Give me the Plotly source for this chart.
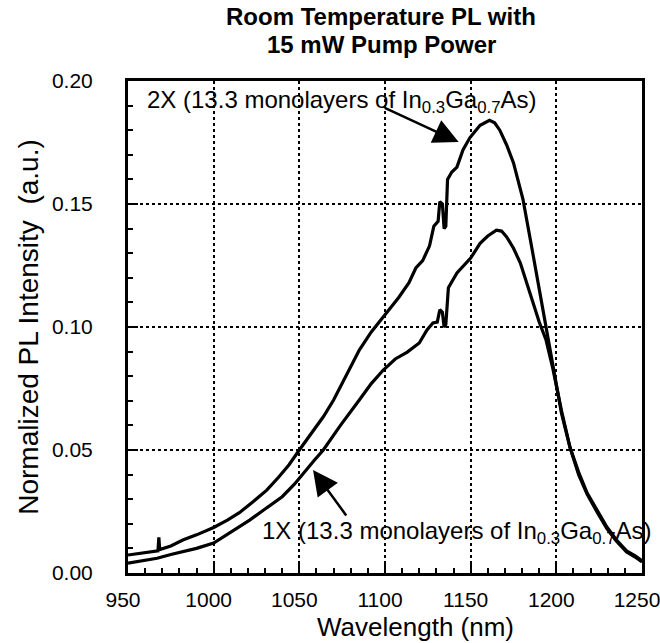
import plotly.graph_objects as go

# 2X sample (upper curve)
wl_2x = [950, 958, 966, 967.5, 968, 968.5, 975, 982, 990, 1000, 1008, 1015, 1023, 1031, 1038, 1044,
         1050, 1057, 1064, 1070, 1077, 1085, 1092, 1099, 1108, 1114, 1118, 1122, 1126, 1128.5, 1131, 1132,
         1133.5, 1134.5, 1135.5, 1136.5, 1139, 1142, 1145.5, 1149.6, 1155.5, 1161, 1164, 1167, 1171,
         1175, 1180.5, 1186, 1192, 1196, 1198, 1203, 1208, 1213, 1218, 1224, 1229.5, 1235, 1241, 1246, 1250]
pl_2x = [0.0073, 0.0080, 0.0090, 0.0090, 0.0145, 0.0095, 0.0110, 0.0134, 0.0155, 0.0185, 0.0215, 0.0245,
         0.0290, 0.0337, 0.0390, 0.0440, 0.0500, 0.0565, 0.0635, 0.0703, 0.0800, 0.0906, 0.0980, 0.1040, 0.1120,
         0.1180, 0.1240, 0.1270, 0.1330, 0.1410, 0.1430, 0.1510, 0.1500, 0.1400, 0.1410, 0.1600, 0.1630,
         0.1650, 0.1720, 0.1770, 0.1820, 0.1840, 0.1830, 0.1800, 0.1740, 0.1667, 0.1520, 0.1310, 0.1080,
         0.0920, 0.0850, 0.0650, 0.0510, 0.0410, 0.0325, 0.0250, 0.0187, 0.0135, 0.0090, 0.0070, 0.0050]

# 1X sample (lower curve)
wl_1x = [950, 958, 967, 975, 983, 990, 1000, 1010, 1021, 1030, 1040, 1047, 1054, 1059, 1064, 1074, 1085,
         1092, 1099, 1106, 1113, 1120, 1124.5, 1128, 1130.5, 1132, 1133.5, 1134.5, 1135.5, 1137, 1142,
         1146, 1150, 1155.5, 1160, 1165, 1168, 1171, 1175, 1179, 1186, 1190, 1194, 1198, 1203, 1208,
         1213, 1218, 1224, 1229.5, 1235, 1241, 1246, 1250]
pl_1x = [0.0040, 0.0050, 0.0060, 0.0075, 0.0088, 0.0100, 0.0122, 0.0165, 0.0215, 0.0260, 0.0310, 0.0360,
         0.0420, 0.0460, 0.0500, 0.0600, 0.0703, 0.0770, 0.0825, 0.0870, 0.0898, 0.0935, 0.0988, 0.1016,
         0.1020, 0.1070, 0.1060, 0.1000, 0.1010, 0.1160, 0.1220, 0.1250, 0.1280, 0.1340, 0.1370, 0.1394,
         0.1390, 0.1366, 0.1320, 0.1260, 0.1110, 0.1020, 0.0947, 0.0830, 0.0660, 0.0510, 0.0400, 0.0320,
         0.0245, 0.0180, 0.0130, 0.0085, 0.0065, 0.0045]

title_lines = ["Room Temperature PL with", "15 mW Pump Power"]
x_title = "Wavelength (nm)"
y_title = "Normalized PL Intensity  (a.u.)"
label_2x = "2X (13.3 monolayers of In<sub>0.3</sub>Ga<sub>0.7</sub>As)"
label_1x = "1X (13.3 monolayers of In<sub>0.3</sub>Ga<sub>0.7</sub>As)"

FONT = "Liberation Sans, Arial, Helvetica, sans-serif"
PLOT_LEFT, PLOT_RIGHT = 128, 642
PLOT_TOP, PLOT_BOTTOM = 81, 573


def paper_y(px):
    return (PLOT_BOTTOM - px) / (PLOT_BOTTOM - PLOT_TOP)


def paper_x(px):
    return (px - PLOT_LEFT) / (PLOT_RIGHT - PLOT_LEFT)


fig = go.Figure()
for wl, pl in [(wl_2x, pl_2x), (wl_1x, pl_1x)]:
    fig.add_trace(go.Scatter(x=wl, y=pl, mode="lines",
                             line=dict(color="black", width=3.2), showlegend=False))

for i, line in enumerate(title_lines):
    fig.add_annotation(x=paper_x(381), y=paper_y(17 + 28 * i), xref="paper", yref="paper",
                       text=f"<b>{line}</b>", showarrow=False, xanchor="center", yanchor="middle",
                       font=dict(size=24, family=FONT, color="black"))

fig.add_annotation(x=paper_x(415), y=paper_y(627), xref="paper", yref="paper", text=x_title,
                   showarrow=False, xanchor="center", yanchor="middle",
                   font=dict(size=26, family=FONT, color="black"))

fig.add_annotation(x=960, y=0.1915, xref="x", yref="y", text=label_2x, showarrow=False,
                   xanchor="left", yanchor="middle", font=dict(size=24, color="black", family=FONT))
fig.add_annotation(x=1027, y=0.0163, xref="x", yref="y", text=label_1x, showarrow=False,
                   xanchor="left", yanchor="middle", font=dict(size=24, color="black", family=FONT))
# arrows
fig.add_annotation(x=1143, y=0.1752, ax=1099, ay=0.1894, xref="x", yref="y", axref="x", ayref="y",
                   text="", showarrow=True, arrowhead=2, arrowsize=2, arrowwidth=2.5, arrowcolor="black")
fig.add_annotation(x=1058, y=0.0419, ax=1078, ay=0.0228, xref="x", yref="y", axref="x", ayref="y",
                   text="", showarrow=True, arrowhead=2, arrowsize=2, arrowwidth=2.5, arrowcolor="black")

fig.update_layout(
    width=660, height=643,
    margin=dict(l=PLOT_LEFT, r=660 - PLOT_RIGHT, t=PLOT_TOP, b=643 - PLOT_BOTTOM, autoexpand=False),
    paper_bgcolor="white", plot_bgcolor="white",
    font=dict(family=FONT, color="black", size=21),
)
fig.update_xaxes(range=[950, 1250], tickmode="linear", tick0=950, dtick=50, automargin=False,
                 ticks="inside", ticklen=10, tickwidth=2, tickcolor="black",
                 minor=dict(dtick=10, ticks="inside", ticklen=5, tickwidth=2, tickcolor="black", showgrid=False),
                 showline=True, linecolor="black", linewidth=3, mirror=True,
                 showgrid=True, gridcolor="black", griddash="dot", gridwidth=2,
                 zeroline=False, tickfont=dict(size=21), ticklabeloverflow="allow",
                 ticklabelstandoff=6, ticklabelshift=-5)
fig.update_yaxes(range=[0, 0.2], tickmode="linear", tick0=0, dtick=0.05, tickformat=".2f", automargin=False,
                 ticks="inside", ticklen=10, tickwidth=2, tickcolor="black",
                 minor=dict(dtick=0.01, ticks="inside", ticklen=5, tickwidth=2, tickcolor="black", showgrid=False),
                 showline=True, linecolor="black", linewidth=3, mirror=True,
                 showgrid=True, gridcolor="black", griddash="dot", gridwidth=2,
                 zeroline=False, tickfont=dict(size=21), ticklabelstandoff=28, ticklabeloverflow="allow",
                 title=dict(text=y_title, font=dict(size=28), standoff=6))

fig.write_html("out.html")
